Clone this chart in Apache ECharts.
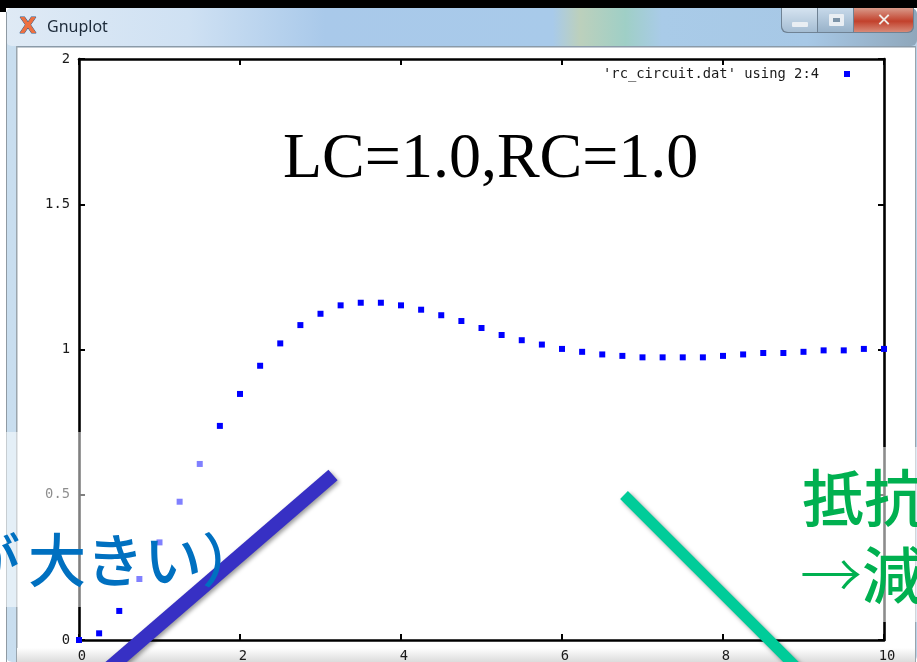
<!DOCTYPE html>
<html>
<head>
<meta charset="utf-8">
<style>html,body{margin:0;padding:0;background:#fff}#c{width:917px;height:662px}</style>
<script src="https://cdn.jsdelivr.net/npm/echarts@6/dist/echarts.min.js"></script>
</head>
<body>
<div id="c"></div>
<script>
var seriesName = "'rc_circuit.dat' using 2:4";
var chartTitle = 'LC=1.0,RC=1.0';
var timeValues = [0,0.25,0.5,0.75,1,1.25,1.5,1.75,2,2.25,2.5,2.75,3,3.25,3.5,3.75,4,4.25,4.5,4.75,5,5.25,5.5,5.75,6,6.25,6.5,6.75,7,7.25,7.5,7.75,8,8.25,8.5,8.75,9,9.25,9.5,9.75,10];
var outputValues = [0,0.023,0.100,0.210,0.336,0.476,0.606,0.737,0.847,0.944,1.021,1.084,1.123,1.152,1.161,1.161,1.152,1.137,1.118,1.098,1.074,1.050,1.032,1.017,1.002,0.992,0.983,0.978,0.973,0.973,0.973,0.973,0.978,0.983,0.988,0.988,0.992,0.997,0.997,1.002,1.002];
var points = timeValues.map(function (t, i) { return [t, outputValues[i]]; });

var mono = '"DejaVu Sans Mono", monospace';
var cjk = '"Noto Sans CJK JP", sans-serif';
var ink = '#1a1a1a';

function rect(x, y, w, h, fill, z, extra) {
  var o = { type: 'rect', silent: true, z: z, shape: { x: x, y: y, width: w, height: h }, style: { fill: fill } };
  if (extra) { o.shape.r = extra; }
  return o;
}
function grad(x0, y0, x1, y1, stops) {
  return new echarts.graphic.LinearGradient(x0, y0, x1, y1, stops.map(function (s) { return { offset: s[0], color: s[1] }; }));
}
function bar(x1, y1, x2, y2, w, color) {
  return { type: 'line', silent: true, z: 120, shape: { x1: x1, y1: y1, x2: x2, y2: y2 },
    style: { stroke: color, lineWidth: w, lineCap: 'butt', shadowColor: 'rgba(0,0,0,0.4)', shadowBlur: 4, shadowOffsetX: 2, shadowOffsetY: 2 } };
}
function label(text, x, y, size, color, weight) {
  return { type: 'text', silent: true, z: 130, x: x, y: y, style: { text: text, fill: color, font: (weight || 500) + ' ' + size + 'px ' + cjk, textVerticalAlign: 'middle' } };
}

var chrome = [
  rect(0, 0, 917, 662, '#ffffff', -30),
  rect(6, 8, 911, 654, grad(0, 0, 1, 0, [[0, '#c9deef'], [1, '#b9d2e8']]), -29, 6),
  rect(6, 8, 911, 38, grad(0, 0, 1, 0, [[0, '#dfeaf5'], [0.2, '#cfe1f3'], [0.35, '#a9c9ea'], [0.6, '#a8caea'], [0.63, '#bcd0bc'], [0.68, '#9fcfc6'], [0.72, '#a9cbe8'], [0.88, '#a7c8e6'], [1, '#8fa7bb']]), -28, 6),
  rect(0, 0, 917, 8, '#000000', -27),
  rect(0, 8, 6, 4, '#000000', -27),
  rect(16, 46, 899, 616, '#ffffff', -26),
  rect(16, 46, 899, 1.5, '#8a9aa8', -25),
  rect(16, 46, 1.5, 616, '#9aa5ad', -25),
  rect(6, 12, 1, 650, '#8f9aa3', -25),
  rect(915, 46, 1, 616, '#9aa5ad', -25),
  rect(17, 648, 898, 14, grad(0, 0, 0, 1, [[0, '#ffffff'], [1, '#dcdcdc']]), -24),
  // window buttons
  rect(781, 8, 133, 25, '#6f8294', -23, [0, 0, 6, 6]),
  rect(782, 8, 35, 24, grad(0, 0, 0, 1, [[0, '#d5e3f0'], [1, '#a5bdd3']]), -22, [0, 0, 0, 6]),
  rect(818, 8, 35, 24, grad(0, 0, 0, 1, [[0, '#c7d9ea'], [1, '#98b2c9']]), -22),
  rect(854, 8, 59, 24, grad(0, 0, 0, 1, [[0, '#d99a8a'], [0.55, '#c2412c'], [1, '#d88a78']]), -22, [0, 0, 6, 0]),
  rect(792, 22, 16, 5, '#e9eef3', -21, 1),
  rect(829, 14, 15, 12, '#e9eef3', -21, 1),
  rect(833, 18, 7, 4, '#7d94a8', -20),
  { type: 'text', silent: true, z: -20, x: 884, y: 21, style: { text: '✕', fill: '#f1ede8', font: 'bold 18px "DejaVu Sans"', textAlign: 'center', textVerticalAlign: 'middle' } },
  // window icon and caption
  { type: 'text', silent: true, z: -20, x: 28, y: 27, style: { text: 'X', fill: '#ee7040', stroke: '#345a86', lineWidth: 1, font: 'bold 22px "DejaVu Sans"', textAlign: 'center', textVerticalAlign: 'middle' } },
  { type: 'text', silent: true, z: -20, x: 47, y: 27, style: { text: 'Gnuplot', fill: '#1d2b3a', font: '16px "Noto Sans"', textVerticalAlign: 'middle' } }
];

var overlay = [
  rect(0, 432, 300, 175, 'rgba(255,255,255,0.5)', 100),
  rect(790, 447, 127, 175, 'rgba(255,255,255,0.55)', 100),
  bar(333, 475, 93, 682, 14, '#3730c4'),
  bar(624, 495, 811, 682, 11, '#00cc99'),
  label('が', -38, 560, 58, '#0070c0'),
  label('大きい）', 28, 560, 58, '#0070c0'),
  label('抵抗', 802, 498, 62, '#00b050'),
  label('→', 800, 575, 62, '#00b050', 300),
  label('減', 862, 575, 62, '#00b050')
];

var chart = echarts.init(document.getElementById('c'), null, { renderer: 'canvas' });

function axisCommon(extra) {
  var base = {
    type: 'value', min: 0, splitLine: { show: false },
    axisLine: { show: true, onZero: false, lineStyle: { color: '#000', width: 2.6 } },
    axisTick: { show: true, inside: true, length: 6, lineStyle: { color: '#000', width: 2 } }
  };
  for (var k in extra) { base[k] = extra[k]; }
  return base;
}

chart.setOption({
  animation: false,
  backgroundColor: '#ffffff',
  title: {
    text: chartTitle, left: 278, top: 123, z: 50,
    textStyle: { fontFamily: '"Liberation Serif", serif', fontSize: 64, fontWeight: 'normal', color: '#000' }
  },
  legend: {
    show: true, right: 67, top: 67, align: 'right', itemWidth: 6, itemHeight: 6, icon: 'rect',
    padding: 0, selectedMode: false,
    textStyle: { fontFamily: mono, fontSize: 13.8, color: ink, padding: [0, 20, 0, 0] }
  },
  grid: { left: 79, right: 33, top: 59, bottom: 22, show: false, containLabel: false, outerBoundsMode: 'none' },
  xAxis: [
    axisCommon({ position: 'bottom', max: 10, interval: 2,
      axisLabel: { margin: 9, padding: [0, 0, 0, 6], fontFamily: mono, fontSize: 13.8, color: ink } }),
    axisCommon({ position: 'top', max: 10, interval: 2, axisLabel: { show: false } })
  ],
  yAxis: [
    axisCommon({ position: 'left', max: 2, interval: 0.5,
      axisLabel: { margin: 9, fontFamily: mono, fontSize: 13.8, color: ink } }),
    axisCommon({ position: 'right', max: 2, interval: 0.5, axisLabel: { show: false } })
  ],
  series: [{
    name: seriesName, type: 'scatter', symbol: 'rect', symbolSize: 6, clip: false,
    xAxisIndex: 0, yAxisIndex: 0, z: 10,
    itemStyle: { color: '#0000ff', opacity: 1 },
    data: points
  }],
  graphic: { elements: chrome.concat(overlay) }
});
</script>
</body>
</html>
